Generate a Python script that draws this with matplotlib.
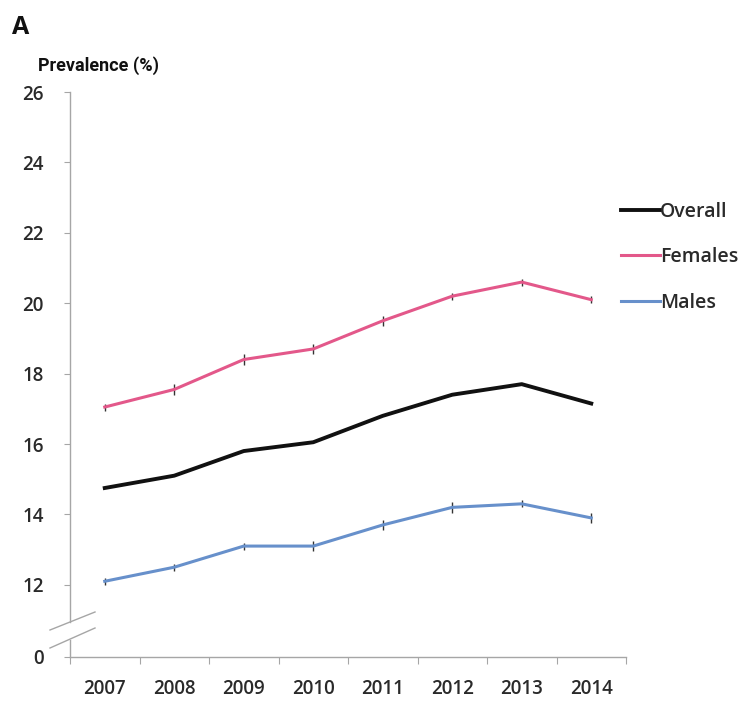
import matplotlib
matplotlib.use("Agg")
import matplotlib.pyplot as plt
from matplotlib.lines import Line2D
import numpy as np

plt.rcParams['font.family'] = ['Open Sans', 'DejaVu Sans']

years = ['2007', '2008', '2009', '2010', '2011', '2012', '2013', '2014']
overall = [14.75, 15.1, 15.8, 16.05, 16.8, 17.4, 17.7, 17.15]
females = [17.05, 17.55, 18.4, 18.7, 19.5, 20.2, 20.6, 20.1]
males = [12.1, 12.5, 13.1, 13.1, 13.7, 14.2, 14.3, 13.9]
females_err = [0.1, 0.15, 0.15, 0.15, 0.15, 0.1, 0.1, 0.1]
males_err = [0.1, 0.1, 0.1, 0.15, 0.15, 0.15, 0.1, 0.15]
yticks_top = [12, 14, 16, 18, 20, 22, 24, 26]

W, H = 752, 701
fig = plt.figure(figsize=(W / 100, H / 100), dpi=100)

ax_left, ax_right = 70, 626
top_y26, top_bot = 92, 622
ppu = 35.2
ax = fig.add_axes([ax_left / W, 1 - top_bot / H, (ax_right - ax_left) / W, (top_bot - top_y26) / H])
ax.set_ylim(26 - (top_bot - top_y26) / ppu, 26)
ax.set_xlim(-0.5, 7.5)

bot_top, bot_bot = 640, 657
ax2 = fig.add_axes([ax_left / W, 1 - bot_bot / H, (ax_right - ax_left) / W, (bot_bot - bot_top) / H])
ax2.set_ylim(0, (bot_bot - bot_top) / ppu)
ax2.set_xlim(-0.5, 7.5)

grey = '#a6a6a6'
txt = '#2a2a2a'
x = np.arange(len(years))
c_over, c_fem, c_mal = '#111111', '#e3588a', '#6790cb'

ax.plot(x, overall, color=c_over, lw=2.8, solid_joinstyle='round', zorder=3)
ax.plot(x, females, color=c_fem, lw=2.2, solid_joinstyle='round', zorder=3)
ax.plot(x, males, color=c_mal, lw=2.2, solid_joinstyle='round', zorder=3)
ax.errorbar(x, females, yerr=females_err, fmt='none', ecolor='#333333', elinewidth=1.0, capsize=0, zorder=2)
ax.errorbar(x, males, yerr=males_err, fmt='none', ecolor='#333333', elinewidth=1.0, capsize=0, zorder=2)

for a in (ax, ax2):
    a.set_facecolor('none')
    for s in ('top', 'right'):
        a.spines[s].set_visible(False)
    a.spines['left'].set_color(grey)
    a.spines['left'].set_linewidth(1.0)
    a.tick_params(axis='y', colors=grey, length=4, width=0.8, labelcolor=txt, labelsize=13.5, pad=15)

ax.spines['bottom'].set_visible(False)
ax.set_yticks(yticks_top)
ax.set_yticklabels([str(t) for t in yticks_top], fontweight='semibold')
ax.set_xticks([])

ax2.set_yticks([0])
ax2.set_yticklabels(['0'], fontweight='semibold')
ax2.spines['bottom'].set_color(grey)
ax2.spines['bottom'].set_linewidth(1.0)
ax2.set_xticks(x)
ax2.set_xticklabels(years, fontsize=13.5, color=txt, fontweight='semibold')
ax2.tick_params(axis='x', which='major', length=0, pad=16)
ax2.set_xticks(np.arange(-0.5, 8.0, 1.0), minor=True)
ax2.tick_params(axis='x', which='minor', length=5, color=grey, width=0.8)

# axis break marks
for (x0, y0, x1, y1) in [(50, 630, 95, 612), (50, 648, 95, 628)]:
    fig.add_artist(Line2D([x0 / W, x1 / W], [1 - y0 / H, 1 - y1 / H], color=grey, lw=1.0, transform=fig.transFigure))

fig.text(12 / W, 1 - 27 / H, 'A', fontsize=18, fontweight='bold', va='center', ha='left', color='#111111')
fig.text(38 / W, 1 - 66 / H, 'Prevalence (%)', fontsize=13, fontweight='bold', va='center', ha='left',
         color='#111111', family=['Roboto', 'DejaVu Sans'])

handles = [Line2D([], [], color=c_over, lw=2.8), Line2D([], [], color=c_fem, lw=2.2), Line2D([], [], color=c_mal, lw=2.2)]
leg = fig.legend(handles, ['Overall', 'Females', 'Males'], loc='upper left',
                 bbox_to_anchor=(621 / W, 1 - 202 / H), frameon=False,
                 prop={'size': 14, 'weight': 'semibold'},
                 handlelength=2.0, handletextpad=0.0, labelspacing=1.3, borderaxespad=0, borderpad=0)
for t in leg.get_texts():
    t.set_color(txt)

fig.savefig('out.png', dpi=100)
